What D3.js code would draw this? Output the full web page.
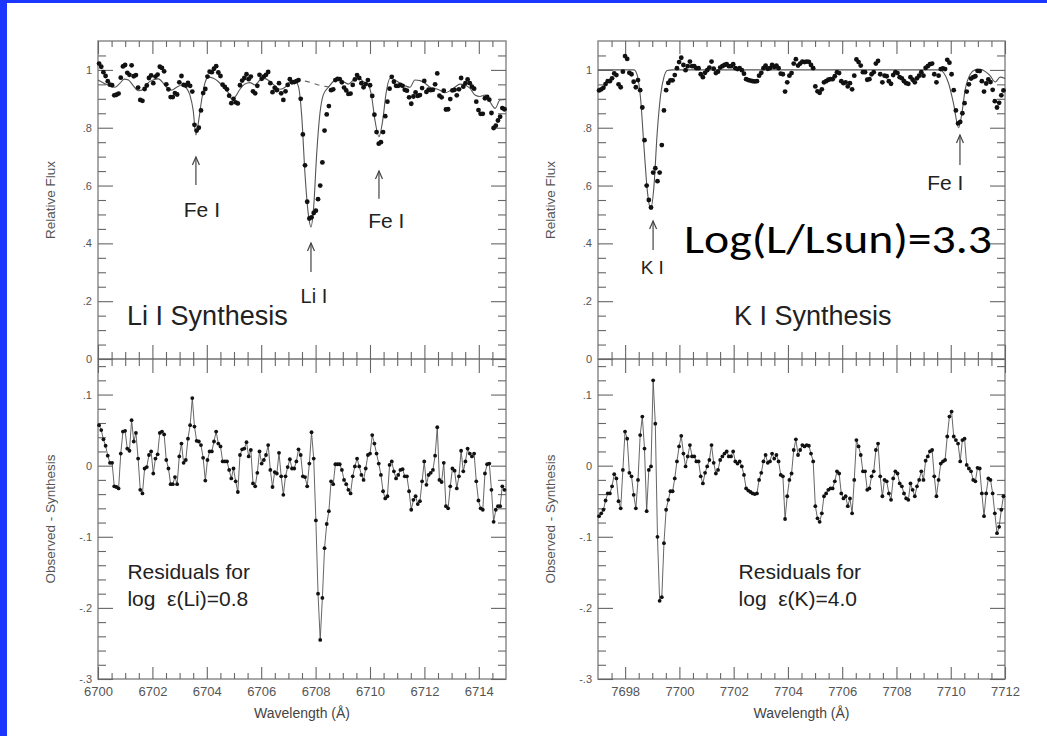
<!DOCTYPE html>
<html>
<head>
<meta charset="utf-8">
<script src="https://cdn.jsdelivr.net/npm/d3@7"></script>
<style>
body { margin: 0; background: #fff; }
svg text { font-family: "Liberation Sans", Arial, Helvetica, sans-serif; }
svg text.big { font-family: Carlito, Lato, "Open Sans", sans-serif; font-weight: 300; }
</style>
</head>
<body>
<script>
// ---- Li I 6708 region (left) ----
var liRange = [6700, 6715];
var liTicks = [6700, 6702, 6704, 6706, 6708, 6710, 6712, 6714];
var liWave0 = 6700.04, liStep = 0.0797;   // pixel sampling of the spectrum

var liFlux = [
  1.022,1.011,0.992,0.979,0.961,0.949,0.947,0.912,0.914,0.918,
  0.973,1.012,1.017,0.990,0.983,1.016,0.978,0.982,0.939,0.896,
  0.893,0.934,0.946,0.972,0.981,0.954,0.977,0.984,1.011,1.007,
  0.995,0.950,0.933,0.906,0.906,0.920,0.915,0.957,0.979,0.948,
  0.946,0.955,0.945,0.925,0.810,0.790,0.800,0.860,0.920,0.934,
  0.977,0.994,0.992,1.004,1.013,0.991,0.979,0.949,0.941,0.933,
  0.911,0.885,0.900,0.888,0.884,0.947,0.963,0.972,0.985,0.968,
  0.977,0.926,0.919,0.945,0.983,0.969,0.977,0.983,0.993,0.954,
  0.923,0.938,0.930,0.954,0.919,0.896,0.926,0.948,0.968,0.957,
  0.958,0.961,0.965,0.900,0.777,0.670,0.544,0.486,0.490,0.505,
  0.513,0.553,0.600,0.680,0.790,0.846,0.875,0.930,0.933,0.965,
  0.969,0.968,0.957,0.939,0.929,0.917,0.918,0.948,0.967,0.982,
  0.972,0.954,0.940,0.951,0.965,0.947,0.910,0.845,0.785,0.745,
  0.750,0.785,0.840,0.890,0.935,0.976,0.959,0.945,0.945,0.948,
  0.945,0.931,0.928,0.905,0.883,0.908,0.922,0.910,0.913,0.937,
  0.962,0.924,0.932,0.930,0.931,0.950,0.988,0.911,0.905,0.928,
  0.863,0.864,0.899,0.929,0.931,0.912,0.933,0.972,0.942,0.954,
  0.967,0.954,0.942,0.935,0.890,0.861,0.848,0.848,0.902,0.907,
  0.897,0.851,0.799,0.807,0.825,0.838,0.868,0.864];

var liResid = [
  0.057,0.050,0.037,0.028,0.014,0.004,0.004,-0.029,-0.030,-0.032,
  0.017,0.048,0.049,0.024,0.021,0.064,0.034,0.046,0.010,-0.034,
  -0.039,-0.004,-0.002,0.015,0.020,-0.011,0.010,0.016,0.046,0.048,
  0.044,0.008,-0.004,-0.026,-0.026,-0.016,-0.026,0.013,0.031,0.004,
  0.008,0.038,0.057,0.095,0.055,0.035,0.034,0.029,0.011,-0.021,
  0.008,0.020,0.020,0.034,0.048,0.031,0.027,0.006,0.006,0.006,
  -0.006,-0.018,-0.004,-0.022,-0.037,0.015,0.023,0.024,0.033,0.013,
  0.022,-0.025,-0.029,-0.010,0.020,0.003,0.008,0.015,0.029,-0.006,
  -0.030,-0.009,-0.011,0.018,-0.015,-0.041,-0.015,-0.002,0.009,-0.004,
  -0.004,0.006,0.023,0.015,-0.015,-0.016,-0.029,0.003,0.047,0.010,
  -0.077,-0.180,-0.245,-0.186,-0.116,-0.082,-0.064,-0.022,-0.026,0.002,
  0.002,0.002,-0.006,-0.020,-0.026,-0.034,-0.039,-0.015,-0.001,0.010,
  -0.001,-0.013,-0.020,-0.004,0.015,0.017,0.043,0.031,0.017,0.003,
  -0.013,-0.036,-0.046,-0.043,0.001,0.006,-0.008,-0.018,-0.013,-0.006,
  -0.005,-0.015,-0.015,-0.036,-0.062,-0.048,-0.043,-0.054,-0.050,-0.022,
  0.006,-0.027,-0.013,-0.010,-0.006,0.014,0.054,-0.020,-0.023,0.004,
  -0.057,-0.060,-0.029,-0.004,-0.007,-0.032,-0.015,0.021,-0.008,0.006,
  0.024,0.017,0.013,0.017,-0.022,-0.049,-0.060,-0.062,-0.011,0.002,
  0.003,-0.034,-0.079,-0.062,-0.057,-0.057,-0.029,-0.034];

var liSynthWave = [
  6700.00,6700.44,6700.63,6700.81,6700.96,6701.12,6701.30,6701.48,6701.67,6701.85,
  6702.03,6702.22,6702.40,6702.52,6702.71,6702.89,6703.08,6703.26,6703.38,6703.50,
  6703.60,6703.71,6703.81,6703.93,6704.06,6704.24,6704.42,6704.61,6704.79,6704.91,
  6705.04,6705.22,6705.40,6705.59,6705.77,6705.96,6706.14,6706.32,6706.51,6706.69,
  6706.88,6707.06,6707.24,6707.37,6707.49,6707.61,6707.73,6707.83,6707.93,6708.04,
  6708.16,6708.28,6708.47,6708.65,6708.84,6709.02,6709.20,6709.39,6709.57,6709.75,
  6709.94,6710.06,6710.18,6710.33,6710.47,6710.59,6710.74,6710.92,6711.10,6711.29,
  6711.47,6711.65,6711.84,6712.02,6712.21,6712.39,6712.57,6712.76,6712.94,6713.12,
  6713.31,6713.49,6713.68,6713.86,6714.04,6714.23,6714.41,6714.60,6714.78,6715.00];
var liSynthFlux = [
  0.965,0.945,0.940,0.954,0.968,0.965,0.945,0.928,0.933,0.956,
  0.965,0.969,0.954,0.940,0.930,0.940,0.948,0.936,0.913,0.860,
  0.775,0.830,0.896,0.954,0.975,0.971,0.960,0.940,0.921,0.900,
  0.907,0.933,0.951,0.956,0.948,0.965,0.970,0.960,0.945,0.933,
  0.940,0.960,0.962,0.942,0.840,0.640,0.503,0.457,0.527,0.710,
  0.850,0.913,0.940,0.960,0.968,0.960,0.951,0.965,0.975,0.960,
  0.948,0.908,0.827,0.769,0.827,0.919,0.971,0.965,0.954,0.945,
  0.940,0.965,0.963,0.954,0.940,0.936,0.930,0.921,0.928,0.940,
  0.951,0.948,0.936,0.913,0.908,0.913,0.890,0.867,0.896,0.898];

// synthesis without lithium (dashed)
var liNoLiWave = [6707.24, 6707.50, 6707.80, 6708.10, 6708.35, 6708.50];
var liNoLiFlux = [0.962, 0.962, 0.957, 0.948, 0.943, 0.941];

// ---- K I 7699 region (right) ----
var kRange = [7697, 7712];
var kTicks = [7698, 7700, 7702, 7704, 7706, 7708, 7710, 7712];
var kWave0 = 7697.04, kStep = 0.0797;

var kFlux = [
  0.929,0.933,0.938,0.951,0.961,0.961,0.971,0.988,0.982,0.950,
  0.940,0.994,1.048,1.038,0.990,0.985,0.959,0.940,0.965,0.930,
  0.870,0.757,0.600,0.550,0.524,0.645,0.660,0.615,0.645,0.740,
  0.860,0.930,0.955,0.964,0.964,0.982,1.006,1.027,1.042,1.017,
  0.999,1.013,1.029,1.013,1.013,1.006,1.006,0.985,0.975,0.990,
  0.999,1.008,1.029,1.004,0.989,0.994,1.008,1.013,1.017,1.020,
  1.013,1.013,1.020,1.006,1.003,1.006,0.999,0.987,0.968,0.965,
  0.963,0.961,0.960,0.961,0.980,0.990,1.006,1.015,1.004,1.006,
  1.017,1.010,1.015,1.006,0.987,0.985,0.925,0.957,0.980,0.989,
  1.022,1.037,1.015,1.022,1.029,1.027,1.029,1.028,1.017,1.006,
  0.943,0.926,0.921,0.933,0.957,0.961,0.966,0.968,0.968,0.978,
  0.992,0.989,0.961,0.954,0.957,0.943,0.954,0.933,0.980,1.036,
  1.027,1.015,0.992,0.992,0.966,0.968,0.985,0.992,1.022,1.031,
  0.985,0.957,0.980,0.978,0.961,0.952,0.982,0.992,0.989,0.975,
  0.971,0.961,0.954,0.952,0.975,0.966,0.957,0.971,0.980,0.992,
  0.980,1.007,1.013,1.020,1.022,0.985,0.957,0.980,1.003,1.005,
  1.003,1.035,1.025,0.985,0.930,0.860,0.815,0.820,0.850,0.885,
  0.925,0.950,0.970,0.975,0.978,0.997,0.996,0.961,0.925,0.953,
  0.967,0.958,0.931,0.892,0.870,0.886,0.912,0.929];

var kResid = [
  -0.071,-0.067,-0.062,-0.049,-0.039,-0.039,-0.029,-0.012,-0.018,-0.050,
  -0.060,-0.006,0.048,0.038,-0.010,-0.015,-0.041,-0.060,-0.020,0.043,
  0.069,0.024,-0.064,-0.006,-0.001,0.120,0.059,-0.100,-0.190,-0.185,
  -0.109,-0.062,-0.048,-0.036,-0.036,-0.018,0.006,0.027,0.042,0.017,
  -0.001,0.013,0.029,0.013,0.013,0.006,0.006,-0.015,-0.025,-0.010,
  -0.001,0.008,0.029,0.004,-0.011,-0.006,0.008,0.013,0.017,0.020,
  0.013,0.013,0.020,0.006,0.003,0.006,-0.001,-0.013,-0.032,-0.035,
  -0.037,-0.039,-0.040,-0.039,-0.020,-0.010,0.006,0.015,0.004,0.006,
  0.017,0.010,0.015,0.006,-0.013,-0.015,-0.075,-0.043,-0.020,-0.011,
  0.022,0.037,0.015,0.022,0.029,0.027,0.029,0.028,0.017,0.006,
  -0.057,-0.074,-0.079,-0.067,-0.043,-0.039,-0.034,-0.032,-0.032,-0.022,
  -0.008,-0.011,-0.039,-0.046,-0.043,-0.057,-0.046,-0.067,-0.020,0.036,
  0.027,0.015,-0.008,-0.008,-0.034,-0.032,-0.015,-0.008,0.022,0.031,
  -0.015,-0.043,-0.020,-0.022,-0.039,-0.048,-0.018,-0.008,-0.011,-0.025,
  -0.029,-0.039,-0.046,-0.048,-0.025,-0.034,-0.043,-0.029,-0.020,-0.008,
  -0.020,0.007,0.013,0.020,0.022,-0.015,-0.043,-0.020,0.003,0.006,
  0.008,0.041,0.069,0.076,0.041,0.036,0.031,0.006,0.036,0.038,
  0.001,-0.004,-0.008,-0.020,-0.022,-0.003,-0.004,-0.039,-0.071,-0.039,
  -0.018,-0.020,-0.039,-0.067,-0.095,-0.086,-0.062,-0.043];

var kSynthWave = [7697.00,7698.33,7698.45,7698.57,7698.69,7698.82,7698.94,7699.06,7699.18,7699.31,
  7699.43,7699.55,7699.74,7709.61,7709.74,7709.92,7710.10,7710.29,7710.41,7710.53,
  7710.72,7710.90,7711.09,7711.28,7711.45,7711.64,7711.82,7712.00];
var kSynthFlux = [1.000,1.000,0.980,0.900,0.740,0.580,0.520,0.595,0.780,0.915,
  0.975,0.998,1.000,1.000,0.990,0.954,0.885,0.800,0.850,0.930,
  0.985,1.000,1.002,0.994,0.980,0.958,0.975,0.970];

var fluxMajor = [0, 0.2, 0.4, 0.6, 0.8, 1];
var fluxLabels = ["0", ".2", ".4", ".6", ".8", "1"];
var residMajor = [-0.3, -0.2, -0.1, 0, 0.1];
var residLabels = ["-.3", "-.2", "-.1", "0", ".1"];

// ---- drawing ----
var W = 1047, H = 736;
var yTop = 41, yMid = 359, yBot = 679;
var ink = "#111", grey = "#555", frameCol = "#8c8c8c";

var svg = d3.select("body").append("svg").attr("width", W).attr("height", H);
svg.append("rect").attr("width", W).attr("height", H).attr("fill", "#fff");
svg.append("rect").attr("width", W).attr("height", 3).attr("fill", "#1b36ff");
svg.append("rect").attr("width", 7).attr("height", H).attr("fill", "#1b36ff");

function drawPanel(p) {
  var x = d3.scaleLinear().domain(p.range).range([p.left, p.right]);
  var yF = d3.scaleLinear().domain([0, 1.1]).range([yMid, yTop]);
  var yR = d3.scaleLinear().domain([-0.3, 0.15]).range([yBot, yMid]);
  var g = svg.append("g");
  var wave = function(i) { return p.wave0 + i * p.step; };

  // frames
  g.append("rect").attr("x", p.left).attr("y", yTop)
    .attr("width", p.right - p.left).attr("height", yMid - yTop)
    .attr("fill", "none").attr("stroke", frameCol).attr("stroke-width", 1.5);
  g.append("rect").attr("x", p.left).attr("y", yMid)
    .attr("width", p.right - p.left).attr("height", yBot - yMid)
    .attr("fill", "none").attr("stroke", frameCol).attr("stroke-width", 1.5);

  function tickRow(axis, values, size, tr) {
    g.append("g").attr("transform", tr)
      .call(axis.tickValues(values).tickSize(size).tickFormat(""))
      .call(function(s) { s.select(".domain").remove(); })
      .selectAll("line").attr("stroke", "#666").attr("stroke-width", 1.1);
  }

  var xMinor = d3.range(p.range[0] + 0.5, p.range[1], 0.5).filter(function(v) { return v % 2 !== 0; });
  var fMinor = d3.range(1, 22).filter(function(k) { return k % 4 !== 0; }).map(function(k) { return k * 0.05; });
  var rMinor = d3.range(-14, 8).filter(function(k) { return k % 5 !== 0; }).map(function(k) { return k * 0.02; });

  // x ticks: top edge, middle divider (both sides), bottom edge
  tickRow(d3.axisBottom(x), p.ticks, 13, "translate(0," + yTop + ")");
  tickRow(d3.axisBottom(x), xMinor, 6, "translate(0," + yTop + ")");
  tickRow(d3.axisBottom(x), p.ticks, 14, "translate(0," + yMid + ")");
  tickRow(d3.axisTop(x), p.ticks, 14, "translate(0," + yMid + ")");
  tickRow(d3.axisBottom(x), xMinor, 7, "translate(0," + yMid + ")");
  tickRow(d3.axisTop(x), xMinor, 7, "translate(0," + yMid + ")");
  tickRow(d3.axisTop(x), p.ticks, 12, "translate(0," + yBot + ")");
  tickRow(d3.axisTop(x), xMinor, 6, "translate(0," + yBot + ")");

  // y ticks on both sides
  [[d3.axisRight, p.left], [d3.axisLeft, p.right]].forEach(function(side) {
    tickRow(side[0](yF), fluxMajor, 15, "translate(" + side[1] + ",0)");
    tickRow(side[0](yF), fMinor, 8, "translate(" + side[1] + ",0)");
    tickRow(side[0](yR), residMajor, 15, "translate(" + side[1] + ",0)");
    tickRow(side[0](yR), rMinor, 8, "translate(" + side[1] + ",0)");
  });

  // tick labels
  function labels(axis, tr, size) {
    g.append("g").attr("transform", tr).call(axis)
      .call(function(s) { s.select(".domain").remove(); s.selectAll("line").remove(); })
      .attr("font-family", null).attr("font-size", null)
      .selectAll("text").attr("font-size", size).attr("fill", grey);
  }
  labels(d3.axisLeft(yF).tickValues(fluxMajor).tickSize(0).tickPadding(6)
    .tickFormat(function(d, i) { return fluxLabels[i]; }), "translate(" + p.left + ",0)", 11);
  labels(d3.axisLeft(yR).tickValues(residMajor).tickSize(0).tickPadding(6)
    .tickFormat(function(d, i) { return residLabels[i]; }), "translate(" + p.left + ",0)", 11);
  labels(d3.axisBottom(x).tickValues(p.ticks).tickSize(0).tickPadding(8)
    .tickFormat(d3.format("d")), "translate(0," + yBot + ")", 13);

  // axis titles
  g.append("text").attr("x", (p.left + p.right) / 2).attr("y", 718)
    .attr("text-anchor", "middle").attr("font-size", 14).attr("fill", "#444")
    .text("Wavelength (\u00c5)");
  g.append("text").attr("transform", "translate(" + (p.left - 43) + "," + ((yTop + yMid) / 2) + ") rotate(-90)")
    .attr("text-anchor", "middle").attr("font-size", 13.5).attr("fill", "#555").text("Relative Flux");
  g.append("text").attr("transform", "translate(" + (p.left - 43) + "," + ((yMid + yBot) / 2) + ") rotate(-90)")
    .attr("text-anchor", "middle").attr("font-size", 13.5).attr("fill", "#555").text("Observed - Synthesis");

  // synthesis curves
  var synth = d3.line().x(function(d) { return x(d[0]); }).y(function(d) { return yF(d[1]); })
    .curve(d3.curveMonotoneX);
  if (p.dashWave) {
    g.append("path").attr("d", synth(d3.zip(p.dashWave, p.dashFlux)))
      .attr("fill", "none").attr("stroke", "#666").attr("stroke-width", 1.1)
      .attr("stroke-dasharray", "5,5");
  }
  g.append("path").attr("d", synth(d3.zip(p.synthWave, p.synthFlux)))
    .attr("fill", "none").attr("stroke", "#555").attr("stroke-width", 1.1);

  // observed points
  g.append("g").selectAll("circle").data(p.flux).join("circle")
    .attr("cx", function(d, i) { return x(wave(i)); })
    .attr("cy", function(d) { return yF(d); })
    .attr("r", 2.4).attr("fill", ink);

  // residuals
  var rline = d3.line().x(function(d, i) { return x(wave(i)); }).y(function(d) { return yR(d); });
  g.append("path").attr("d", rline(p.resid))
    .attr("fill", "none").attr("stroke", "#555").attr("stroke-width", 0.9);
  g.append("g").selectAll("circle").data(p.resid).join("circle")
    .attr("cx", function(d, i) { return x(wave(i)); })
    .attr("cy", function(d) { return yR(d); })
    .attr("r", 1.9).attr("fill", ink);

  // line identifications
  p.notes.forEach(function(n) {
    var ax = x(n.lam), a0 = yF(n.from), a1 = yF(n.to);
    g.append("line").attr("x1", ax).attr("x2", ax).attr("y1", a0).attr("y2", a1)
      .attr("stroke", "#444").attr("stroke-width", 1.2);
    g.append("path").attr("d", "M" + (ax - 3.5) + "," + (a1 + 8) + "L" + ax + "," + a1 + "L" + (ax + 3.5) + "," + (a1 + 8))
      .attr("fill", "none").attr("stroke", "#444").attr("stroke-width", 1.2);
    g.append("text").attr("x", x(n.tx)).attr("y", yF(n.ty)).attr("text-anchor", "middle")
      .attr("font-size", n.size).attr("fill", "#222").text(n.text);
  });

  g.append("text").attr("x", x(p.title.lam)).attr("y", yF(0.118))
    .attr("font-size", 27).attr("fill", "#222").text(p.title.text);
  g.append("text").attr("x", x(p.resLam)).attr("y", yR(-0.160))
    .attr("font-size", 21).attr("fill", "#222").text("Residuals for");
  g.append("text").attr("x", x(p.resLam)).attr("y", yR(-0.198))
    .attr("font-size", 21).attr("fill", "#222").style("white-space", "pre").text(p.abund);

  return { x: x, yF: yF };
}

drawPanel({
  left: 98, right: 506, range: liRange, ticks: liTicks,
  wave0: liWave0, step: liStep, flux: liFlux, resid: liResid,
  synthWave: liSynthWave, synthFlux: liSynthFlux,
  dashWave: liNoLiWave, dashFlux: liNoLiFlux,
  notes: [
    { text: "Fe I", lam: 6703.60, from: 0.602, to: 0.699, tx: 6703.82, ty: 0.491, size: 21 },
    { text: "Li I", lam: 6707.83, from: 0.301, to: 0.401, tx: 6707.94, ty: 0.194, size: 20 },
    { text: "Fe I", lam: 6710.33, from: 0.554, to: 0.650, tx: 6710.60, ty: 0.453, size: 21 }
  ],
  title: { text: "Li I Synthesis", lam: 6701.07 },
  resLam: 6701.08, abund: "log  \u03b5(Li)=0.8"
});

var kp = drawPanel({
  left: 598, right: 1005, range: kRange, ticks: kTicks,
  wave0: kWave0, step: kStep, flux: kFlux, resid: kResid,
  synthWave: kSynthWave, synthFlux: kSynthFlux,
  notes: [
    { text: "K I", lam: 7699.03, from: 0.377, to: 0.4775, tx: 7699.00, ty: 0.294, size: 19 },
    { text: "Fe I", lam: 7710.34, from: 0.671, to: 0.775, tx: 7709.80, ty: 0.585, size: 21 }
  ],
  title: { text: "K I Synthesis", lam: 7702.01 },
  resLam: 7702.18, abund: "log  \u03b5(K)=4.0"
});

svg.append("text").attr("class", "big").attr("x", kp.x(7700.17)).attr("y", kp.yF(0.367))
  .attr("font-size", 40)
  .attr("textLength", 308).attr("lengthAdjust", "spacingAndGlyphs")
  .attr("fill", "#000").text("Log(L/Lsun)=3.3");
</script>
</body>
</html>
